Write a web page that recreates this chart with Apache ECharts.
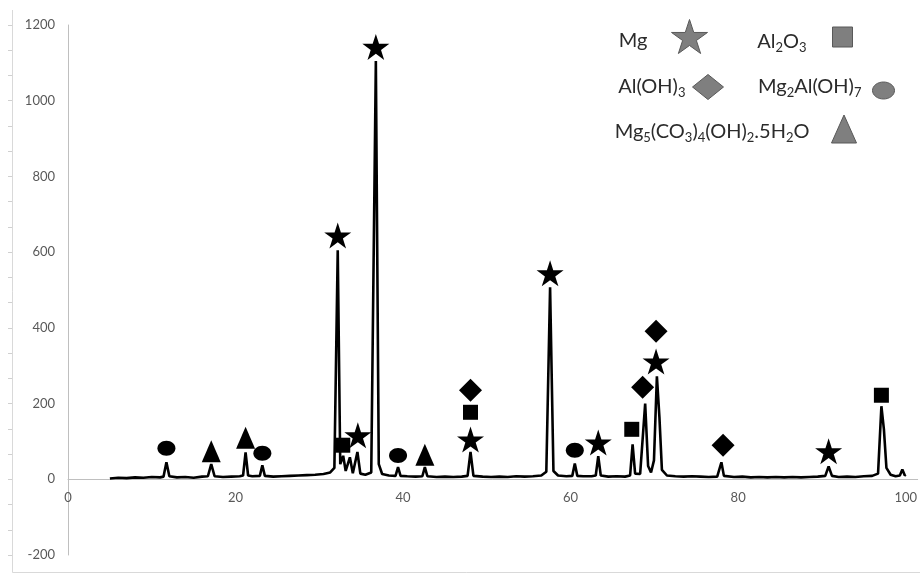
<!DOCTYPE html>
<html>
<head>
<meta charset="utf-8">
<script src="https://cdn.jsdelivr.net/npm/echarts@6/dist/echarts.min.js"></script>
<style>html,body{margin:0;padding:0;background:#fff}#c{width:920px;height:576px}</style>
</head>
<body>
<div id="c"></div>
<script>
// XRD pattern: [2theta, intensity]
const xrdPattern = [
  [5.0,2],[6,4],[7,3],[8,5],[9,4],[10,6],[11,5],[11.4,7],[11.75,45],[12.1,8],[13,5],[14,6],[15,4],[16,7],
  [16.7,8],[17.1,40],[17.5,8],[18.5,6],[19.5,7],[20.5,8],[20.9,10],[21.2,71],[21.5,10],[22,8],[22.9,9],
  [23.2,37],[23.5,9],[24.5,7],[25.5,8],[26.5,9],[27.5,10],[28.5,11],[29.5,12],[30.5,14],[31.3,18],[31.8,30],
  [32.2,605],[32.5,40],[32.85,62],[33.15,22],[33.65,58],[34.0,16],[34.55,72],[34.9,15],[35.5,12],[36.2,18],
  [36.75,1105],[37.1,40],[37.5,14],[38.3,10],[39.1,9],[39.4,32],[39.7,9],[40.5,8],[41.5,7],[42.3,8],[42.6,32],
  [42.9,8],[44,6],[45,7],[46,6],[47,7],[47.7,9],[48.05,72],[48.4,9],[49.5,7],[50.5,6],[51.5,7],[52.5,6],
  [53.5,8],[54.5,7],[55.5,8],[56.5,10],[57.1,20],[57.55,507],[57.95,22],[58.5,10],[59.5,8],[60.2,9],[60.5,42],
  [60.8,9],[61.5,8],[62.5,8],[63.0,10],[63.3,61],[63.6,10],[64.5,7],[65.5,8],[66.5,7],[67.1,10],[67.4,92],
  [67.7,15],[68.3,14],[68.9,200],[69.25,35],[69.6,18],[69.95,50],[70.3,272],[70.6,165],[70.9,25],[71.5,10],
  [72.5,8],[73.5,7],[74.5,8],[75.5,7],[76.5,6],[77.5,7],[77.7,9],[78.0,45],[78.3,9],[79.5,6],[80.5,7],[81.5,5],
  [82.5,6],[83.5,5],[84.5,6],[85.5,5],[86.5,6],[87.5,5],[88.5,6],[89.5,7],[90.4,9],[90.8,34],[91.2,9],[92,6],
  [93,7],[94,6],[95,8],[96,9],[96.7,15],[97.1,193],[97.4,132],[97.7,30],[98.2,12],[98.8,8],[99.3,10],[99.6,26],
  [99.9,10],[100,12]
];

// phase markers: [2theta, marker height]
const mgPeaks = [[32.2,644],[34.6,116],[36.75,1142],[48.05,105],[57.55,544],[63.3,97],[70.2,311],[90.8,74]];
const al2o3Peaks = [[32.8,90],[48.05,177],[67.3,132],[97.1,222]];
const aloh3Peaks = [[48.05,235],[68.6,243],[70.2,391],[78.2,90]];
const mg2aloh7Peaks = [[11.75,82],[23.2,69],[39.4,63],[60.5,77]];
const carbonatePeaks = [[17.1,74],[21.2,110],[42.6,65]];

const phaseNames = ['Mg','Al2O3','Al(OH)3','Mg2Al(OH)7','Mg5(CO3)4(OH)2.5H2O'];
const xTicks = [0,20,40,60,80,100];
const yTicks = [-200,0,200,400,600,800,1000,1200];

const STAR = 'path://M50,0 L61.2,34.5 L97.6,34.5 L68.2,55.9 L79.4,90.5 L50,69.1 L20.6,90.5 L31.8,55.9 L2.4,34.5 L38.8,34.5 Z';
const ELLIPSE = 'path://M0,50 C0,22.4 22.4,0 50,0 C77.6,0 100,22.4 100,50 C100,77.6 77.6,100 50,100 C22.4,100 0,77.6 0,50 Z';

const GRID = { left: 68, right: 0, top: 25, bottom: 21 };
const yMin = yTicks[0], yMax = yTicks[yTicks.length - 1];
const gridH = 576 - GRID.top - GRID.bottom;
const xAxisOffset = -((0 - yMin) / (yMax - yMin)) * gridH; // put x axis at y = 0

const chart = echarts.init(document.getElementById('c'));
const FONT = 'Lato';
const legendText = (pad) => ({
  fontFamily: FONT, fontSize: 20, color: '#2b2b2b', lineHeight: 24, padding: pad,
  rich: { s: { fontFamily: FONT, fontSize: 13, color: '#2b2b2b', verticalAlign: 'bottom', lineHeight: 14 } }
});
const fmt = n => n.replace(/([A-Za-z)])(\d)/g, '$1{s|$2}');
const legendBase = {
  orient: 'horizontal', align: 'right', padding: 0, selectedMode: false, formatter: fmt,
  symbolKeepAspect: false,
  itemStyle: { color: '#7f7f7f', borderColor: '#595959', borderWidth: 1, opacity: 1 }
};

const scatter = (name, data, symbol, size) => ({
  name, type: 'scatter', data, symbol, symbolSize: size, z: 5, symbolKeepAspect: false,
  itemStyle: { color: '#000', opacity: 1 }, silent: true
});

chart.setOption({
  animation: false,
  backgroundColor: '#fff',
  grid: Object.assign({ containLabel: false }, GRID),
  xAxis: {
    type: 'value', min: xTicks[0], max: 101.43, interval: 20, offset: xAxisOffset,
    axisLine: { onZero: false, lineStyle: { color: '#bfbfbf', width: 1 } },
    axisTick: { show: false },
    splitLine: { show: false },
    axisLabel: { color: '#595959', fontSize: 13, fontFamily: FONT, margin: 12, showMaxLabel: false,
      formatter: v => xTicks.includes(v) ? String(v) : '' }
  },
  yAxis: [
    {
      type: 'value', min: yMin, max: yMax, interval: 200,
      axisLine: { show: true, onZero: false, lineStyle: { color: '#bfbfbf', width: 1 } },
      axisTick: { show: false }, axisLabel: { show: false }, splitLine: { show: false }
    },
    {
      type: 'value', position: 'left', offset: 56,
      min: yMin, max: yMax, interval: 200,
      axisLine: { show: false, onZero: false },
      axisTick: { show: true, length: 4, lineStyle: { color: '#d0d0d0' } },
      minorTick: { show: true, splitNumber: 3, length: 4, lineStyle: { color: '#d0d0d0' } },
      splitLine: { show: false },
      axisLabel: { inside: true, align: 'right', margin: 43, color: '#595959', fontSize: 13, fontFamily: FONT,
        formatter: v => String(v) }
    }
  ],
  legend: [
    Object.assign({}, legendBase, { data: [phaseNames[0]], right: 212, top: 19, itemWidth: 36, itemHeight: 34, textStyle: legendText([8, 19, 0, 0]) }),
    Object.assign({}, legendBase, { data: [phaseNames[1]], right: 67, top: 20, itemWidth: 20, itemHeight: 20, textStyle: legendText([10, 21, 0, 0]) }),
    Object.assign({}, legendBase, { data: [phaseNames[2]], right: 196, top: 74, itemWidth: 31, itemHeight: 25, textStyle: legendText([0, 2, 0, 0]) }),
    Object.assign({}, legendBase, { data: [{ name: phaseNames[3], icon: ELLIPSE }], right: 25, top: 75, itemWidth: 22, itemHeight: 17, textStyle: legendText([0, 6, 7, 0]) }),
    Object.assign({}, legendBase, { data: [phaseNames[4]], right: 63, top: 114, itemWidth: 25, itemHeight: 28, textStyle: legendText([6, 17, 0, 0]) })
  ],
  graphic: [
    { type: 'line', shape: { x1: 12.5, y1: 10, x2: 12.5, y2: 572.5 }, style: { stroke: '#d9d9d9', lineWidth: 1 }, silent: true },
    { type: 'line', shape: { x1: 12.5, y1: 572.5, x2: 920, y2: 572.5 }, style: { stroke: '#d9d9d9', lineWidth: 1 }, silent: true }
  ],
  series: [
    {
      name: 'pattern', type: 'line', data: xrdPattern, showSymbol: false, symbol: 'none',
      lineStyle: { color: '#000', width: 2.6 }, silent: true, z: 3
    },
    scatter(phaseNames[0], mgPeaks, STAR, [27, 26]),
    scatter(phaseNames[1], al2o3Peaks, 'rect', [15, 15]),
    scatter(phaseNames[2], aloh3Peaks, 'diamond', [23, 23]),
    scatter(phaseNames[3], mg2aloh7Peaks, ELLIPSE, [18, 15]),
    scatter(phaseNames[4], carbonatePeaks, 'triangle', [19, 22])
  ]
});
</script>
</body>
</html>
